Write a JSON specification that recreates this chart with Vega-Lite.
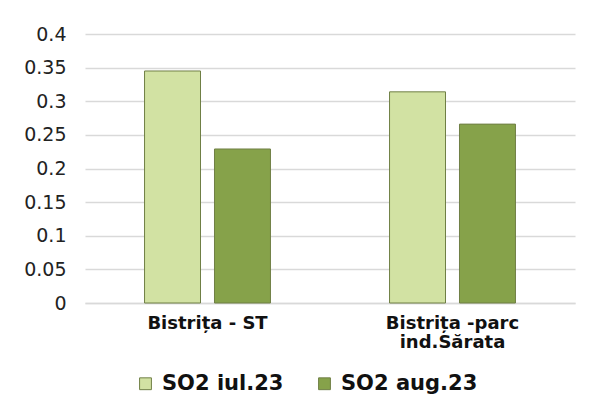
{
  "$schema": "https://vega.github.io/schema/vega-lite/v6.json",
  "width": 490,
  "height": 269,
  "autosize": "none",
  "padding": {"left": 85, "top": 34, "right": 25, "bottom": 107},
  "background": "white",
  "data": {
    "values": [
      {"station": "Bistrița - ST", "series": "SO2 iul.23", "value": 0.345},
      {"station": "Bistrița - ST", "series": "SO2 aug.23", "value": 0.229},
      {"station": "Bistrița -parc ind.Sărata", "series": "SO2 iul.23", "value": 0.314},
      {"station": "Bistrița -parc ind.Sărata", "series": "SO2 aug.23", "value": 0.266}
    ]
  },
  "mark": {"type": "bar", "stroke": "#6F7F45", "strokeWidth": 1},
  "encoding": {
    "x": {
      "field": "station",
      "type": "nominal",
      "sort": null,
      "scale": {"paddingInner": 0.486, "paddingOuter": 0.243},
      "axis": {
        "title": null,
        "labelAngle": 0,
        "labelFont": "DejaVu Sans",
        "labelFontSize": 18,
        "labelFontWeight": "bold",
        "labelColor": "#111111",
        "labelPadding": 11,
        "labelLineHeight": 19,
        "labelBaseline": "top",
        "ticks": false,
        "domainColor": "#D9D9D9",
        "domainWidth": 1.5,
        "labelExpr": "datum.value == 'Bistrița -parc ind.Sărata' ? ['Bistrița -parc', 'ind.Sărata'] : datum.value"
      }
    },
    "xOffset": {
      "field": "series",
      "type": "nominal",
      "scale": {"domain": ["SO2 iul.23", "SO2 aug.23"], "paddingInner": 0.2, "paddingOuter": 0}
    },
    "y": {
      "field": "value",
      "type": "quantitative",
      "scale": {"domain": [0, 0.4], "nice": false},
      "axis": {
        "title": null,
        "values": [0, 0.05, 0.1, 0.15, 0.2, 0.25, 0.3, 0.35, 0.4],
        "format": ".2~f",
        "labelFont": "DejaVu Sans",
        "labelFontSize": 19,
        "labelColor": "#222222",
        "labelPadding": 19,
        "ticks": false,
        "domain": false,
        "gridColor": "#D9D9D9",
        "gridWidth": 1.5
      }
    },
    "color": {
      "field": "series",
      "type": "nominal",
      "scale": {"domain": ["SO2 iul.23", "SO2 aug.23"], "range": ["#D2E2A3", "#86A24A"]},
      "legend": {
        "title": null,
        "orient": "none",
        "direction": "horizontal",
        "legendX": 50,
        "legendY": 339,
        "symbolType": "square",
        "symbolSize": 140,
        "symbolStrokeColor": "#6F7F45",
        "symbolStrokeWidth": 1,
        "labelFont": "DejaVu Sans",
        "labelFontSize": 21,
        "labelFontWeight": "bold",
        "labelColor": "#111111",
        "labelOffset": 6,
        "columnPadding": 30
      }
    }
  },
  "config": {"view": {"stroke": null}}
}
